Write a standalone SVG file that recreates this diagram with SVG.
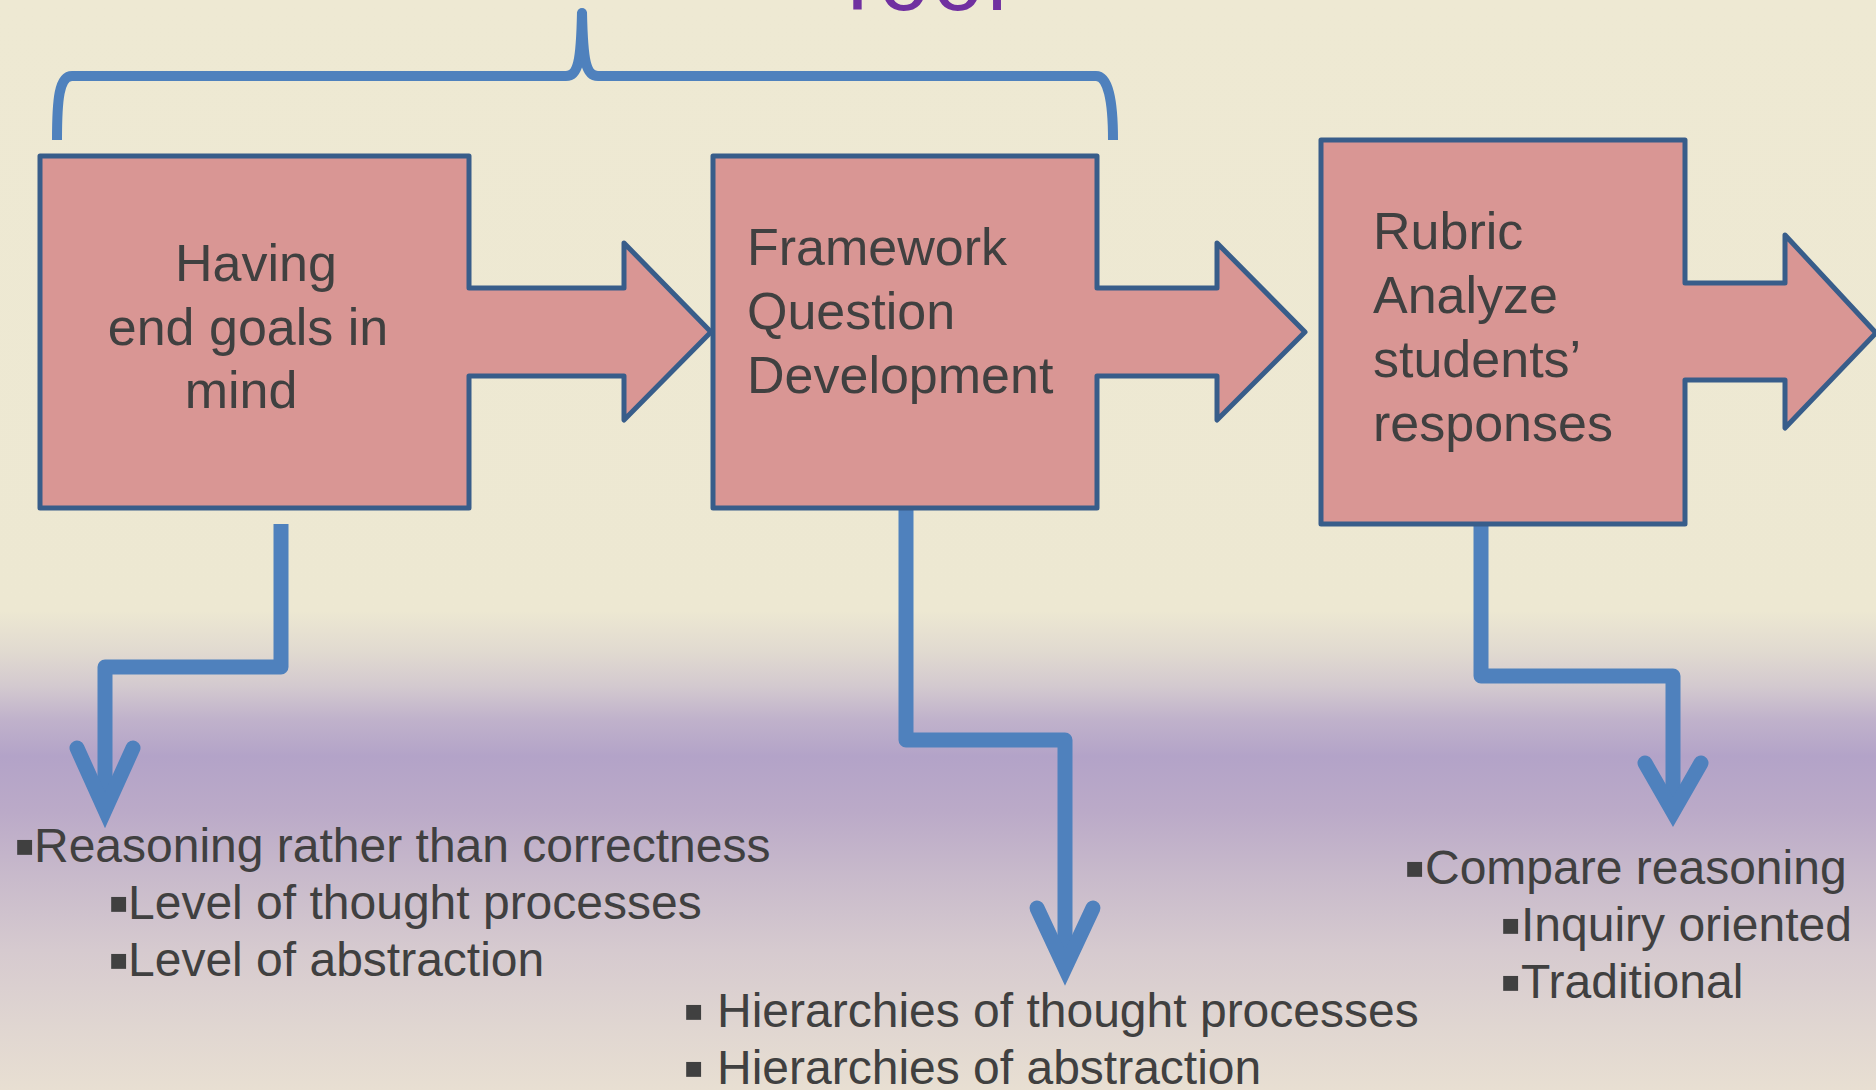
<svg xmlns="http://www.w3.org/2000/svg" width="1876" height="1090" viewBox="0 0 1876 1090">
<defs>
<linearGradient id="bg" x1="0" y1="0" x2="0" y2="1090" gradientUnits="userSpaceOnUse">
<stop offset="0" stop-color="#EEE9D3"/>
<stop offset="0.56" stop-color="#EDE8D2"/>
<stop offset="0.6" stop-color="#E0D9D0"/>
<stop offset="0.63" stop-color="#D3C9CF"/>
<stop offset="0.66" stop-color="#C0B2CB"/>
<stop offset="0.694" stop-color="#B3A3C8"/>
<stop offset="0.745" stop-color="#BBAAC8"/>
<stop offset="0.804" stop-color="#C8BACB"/>
<stop offset="0.872" stop-color="#D6CACF"/>
<stop offset="0.942" stop-color="#E0D6D1"/>
<stop offset="1" stop-color="#E8DFD2"/>
</linearGradient>
</defs>
<style>
.node{fill:#D99694;stroke:#385D8A;stroke-width:5;stroke-linejoin:round}
.lbl{font-family:"Liberation Sans",Arial,sans-serif;font-size:52px;fill:#404040}
.conn{fill:none;stroke:#4F81BD;stroke-width:15;stroke-linejoin:round}
.head{fill:none;stroke:#4F81BD;stroke-width:15;stroke-linejoin:miter;stroke-linecap:round;stroke-miterlimit:6}
.brace{fill:none;stroke:#4F81BD;stroke-width:10;stroke-linecap:butt}
.txt{font-family:"Liberation Sans",Arial,sans-serif;font-size:48px;fill:#404040}
.b{font-family:"Liberation Sans","DejaVu Sans",sans-serif;font-size:60px;fill:#404040;baseline-shift:-4px}
.title{font-family:"Liberation Sans",Arial,sans-serif;font-size:90px;fill:#7030A0;letter-spacing:4px}
</style>
<rect x="0" y="0" width="1876" height="1090" fill="url(#bg)"/>

<g id="title">
<text class="title" x="830" y="10">Tool</text>
</g>

<g id="bracket">
<path class="brace" d="M57,140 C57,100 59,76 72,76 L566,76 C578,76 581,62 582,12"/>
<path class="brace" d="M582,12 C583,62 586,76 598,76 L1096,76 C1108,76 1113,100 1113,140"/>
<circle cx="582" cy="13" r="5" fill="#4F81BD"/>
</g>

<g id="connectors">
<path class="conn" d="M281,524 V667 H105 V806"/>
<path class="head" d="M77,748 L105,810 L133,748"/>
<path class="conn" d="M906,507 V740 H1065 V964"/>
<path class="head" d="M1037,908 L1065,968 L1093,908"/>
<path class="conn" d="M1481,523 V676 H1673 V808"/>
<path class="head" d="M1645,763 L1673,812 L1701,763"/>
</g>

<g id="node1">
<path class="node" d="M40,156 H469 V288 H624 V243 L711,332 L624,420 V376 H469 V508 H40 Z"/>
<text class="lbl" x="256" y="281" text-anchor="middle">Having</text>
<text class="lbl" x="248" y="344.5" text-anchor="middle">end goals in</text>
<text class="lbl" x="241" y="408" text-anchor="middle">mind</text>
</g>

<g id="node2">
<path class="node" d="M713,156 H1097 V288 H1217 V243 L1305,332 L1217,420 V376 H1097 V508 H713 Z"/>
<text class="lbl" x="747" y="265">Framework</text>
<text class="lbl" x="747" y="329">Question</text>
<text class="lbl" x="747" y="393">Development</text>
</g>

<g id="node3">
<path class="node" d="M1321,140 H1685 V283 H1785 V235 L1876,333 L1785,428 V380 H1685 V524 H1321 Z"/>
<text class="lbl" x="1373" y="249">Rubric</text>
<text class="lbl" x="1373" y="313">Analyze</text>
<text class="lbl" x="1373" y="377">students’</text>
<text class="lbl" x="1373" y="441">responses</text>
</g>

<g id="list1">
<text class="txt" y="862"><tspan class="b" x="14">▪</tspan><tspan x="34">Reasoning rather than correctness</tspan></text>
<text class="txt" y="919"><tspan class="b" x="108">▪</tspan><tspan x="128">Level of thought processes</tspan></text>
<text class="txt" y="976"><tspan class="b" x="108">▪</tspan><tspan x="128">Level of abstraction</tspan></text>
</g>

<g id="list2">
<text class="txt" y="1027"><tspan class="b" x="683">▪ </tspan><tspan x="717">Hierarchies of thought processes</tspan></text>
<text class="txt" y="1084"><tspan class="b" x="683">▪ </tspan><tspan x="717">Hierarchies of abstraction</tspan></text>
</g>

<g id="list3">
<text class="txt" y="884"><tspan class="b" x="1404">▪</tspan><tspan x="1425">Compare reasoning</tspan></text>
<text class="txt" y="941"><tspan class="b" x="1500">▪</tspan><tspan x="1521">Inquiry oriented</tspan></text>
<text class="txt" y="998"><tspan class="b" x="1500">▪</tspan><tspan x="1521">Traditional</tspan></text>
</g>
</svg>
